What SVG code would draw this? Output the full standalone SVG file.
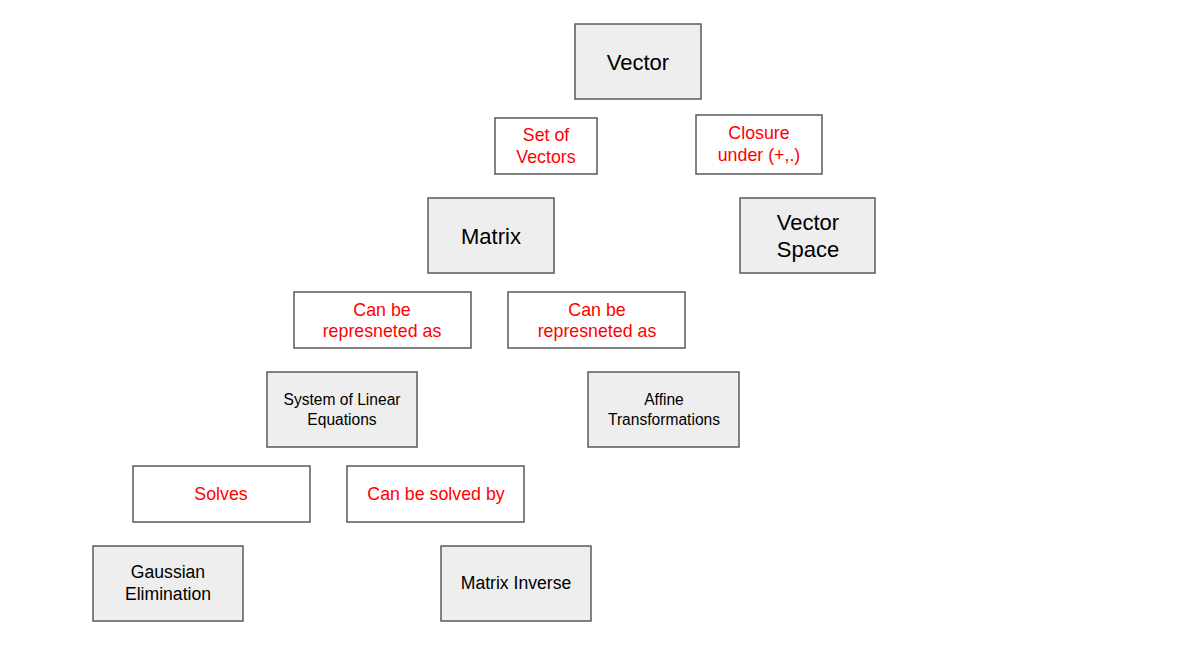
<svg xmlns="http://www.w3.org/2000/svg" width="1192" height="664" viewBox="0 0 1192 664">
<style>
.n rect{fill:#eeeeee;stroke:#595959;stroke-width:1.5}
.l rect{fill:#ffffff;stroke:#595959;stroke-width:1.5}
text{font-family:"Liberation Sans",Arial,sans-serif;text-anchor:middle}
.n text{fill:#000000}
.l text{fill:#ff0000;font-size:17.8px}
.big{font-size:22px}
.mid{font-size:17.6px}
.sm{font-size:15.6px}
</style>
<rect width="1192" height="664" fill="#ffffff"/>
<g id="connectors"></g>
<g id="vector" class="n"><rect x="575" y="24" width="126" height="75"/><text class="big" x="638" y="70">Vector</text></g>
<g id="set-of-vectors" class="l"><rect x="495" y="118" width="102" height="56"/><text x="546" y="141">Set of</text><text x="546" y="163">Vectors</text></g>
<g id="closure" class="l"><rect x="696" y="115" width="126" height="59"/><text x="759" y="139">Closure</text><text x="759" y="161">under (+,.)</text></g>
<g id="matrix" class="n"><rect x="428" y="198" width="126" height="75"/><text class="big" x="491" y="244">Matrix</text></g>
<g id="vector-space" class="n"><rect x="740" y="198" width="135" height="75"/><text class="big" x="808" y="230">Vector</text><text class="big" x="808" y="257">Space</text></g>
<g id="represented-1" class="l"><rect x="294" y="292" width="177" height="56"/><text x="382" y="316">Can be</text><text x="382" y="337">represneted as</text></g>
<g id="represented-2" class="l"><rect x="508" y="292" width="177" height="56"/><text x="597" y="316">Can be</text><text x="597" y="337">represneted as</text></g>
<g id="system" class="n"><rect x="267" y="372" width="150" height="75"/><text class="sm" x="342" y="405">System of Linear</text><text class="sm" x="342" y="425">Equations</text></g>
<g id="affine" class="n"><rect x="588" y="372" width="151" height="75"/><text class="sm" x="664" y="405">Affine</text><text class="sm" x="664" y="425">Transformations</text></g>
<g id="solves" class="l"><rect x="133" y="466" width="177" height="56"/><text x="221" y="500">Solves</text></g>
<g id="solved-by" class="l"><rect x="347" y="466" width="177" height="56"/><text x="436" y="500">Can be solved by</text></g>
<g id="gaussian" class="n"><rect x="93" y="546" width="150" height="75"/><text class="mid" x="168" y="578">Gaussian</text><text class="mid" x="168" y="600">Elimination</text></g>
<g id="matrix-inverse" class="n"><rect x="441" y="546" width="150" height="75"/><text class="mid" x="516" y="589">Matrix Inverse</text></g>
</svg>
